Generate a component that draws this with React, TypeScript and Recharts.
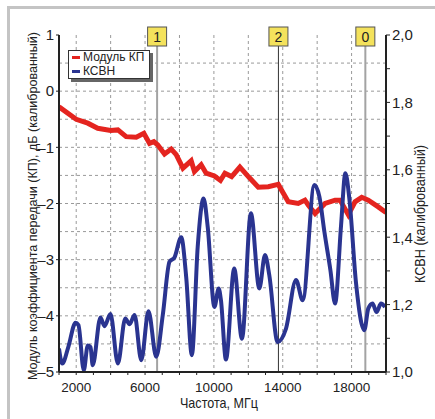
import {
  LineChart,
  Line,
  XAxis,
  YAxis,
  CartesianGrid,
  ReferenceLine,
} from "recharts";

// Модуль КП, дБ
const freqKP = [
  1000, 2000, 2670, 3250, 4000, 4420, 4900, 5490, 5930, 6260, 6510, 6740,
  7130, 7520, 7810, 8200, 8680, 8870, 9260, 9550, 10030, 10380, 10640, 11030,
  11510, 12000, 12580, 13160, 13740, 14320, 14900, 15290, 15490, 15880, 16460,
  17040, 17330, 17810, 18200, 18590, 18970, 19550, 20000,
];
const kp = [
  -0.28, -0.5, -0.57, -0.66, -0.7, -0.69, -0.81, -0.82, -0.75, -0.93, -0.9,
  -0.96, -1.12, -1.03, -1.13, -1.37, -1.24, -1.43, -1.31, -1.46, -1.51, -1.59,
  -1.46, -1.52, -1.35, -1.52, -1.71, -1.7, -1.66, -1.97, -2.0, -1.94, -2.03,
  -2.18, -2.0, -1.94, -1.94, -2.2, -1.97, -1.89, -1.94, -2.06, -2.16,
];

// КСВН
const freqSWR = [
  1000, 1190, 1540, 1960, 2130, 2440, 2670, 2830, 2960, 3410, 3640, 3990, 4420,
  4850, 5100, 5390, 5780, 6200, 6650, 7030, 7420, 7710, 8100, 8390, 8720, 9060,
  9400, 9640, 10030, 10280, 10410, 10700, 11180, 11630, 12150, 12640, 12970,
  13220, 13700, 14190, 14770, 15160, 15840, 16130, 16420, 16770, 17040, 17390,
  17640, 17870, 18260, 18740, 18970, 19220, 19450, 19710, 19940,
];
const swr = [
  1.07, 1.025, 1.074, 1.146, 1.139, 1.005, 1.079, 1.074, 1.02, 1.162, 1.136,
  1.172, 1.025, 1.159, 1.142, 1.169, 1.035, 1.18, 1.045, 1.169, 1.327, 1.34,
  1.4, 1.282, 1.05, 1.372, 1.515, 1.431, 1.193, 1.248, 1.213, 1.037, 1.307,
  1.099, 1.471, 1.248, 1.347, 1.287, 1.089, 1.129, 1.273, 1.213, 1.555, 1.52,
  1.416, 1.302, 1.203, 1.436, 1.59, 1.515, 1.263, 1.124, 1.188, 1.203, 1.178,
  1.203, 1.193,
];

const xTicks = [
  1000, 2000, 3000, 4000, 5000, 6000, 7000, 8000, 9000, 10000, 11000, 12000,
  13000, 14000, 15000, 16000, 17000, 18000, 19000, 20000,
];
const xLabels = [2000, 6000, 10000, 14000, 18000];
const xGrid = [2000, 4000, 6000, 8000, 10000, 12000, 14000, 16000, 18000];
const leftTicks = [-5, -4, -3, -2, -1, 0, 1];
const leftGrid = [-4.5, -4, -3.5, -3, -2.5, -2, -1.5, -1, -0.5, 0, 0.5];
const rightTicks = [1.0, 1.1, 1.2, 1.3, 1.4, 1.5, 1.6, 1.7, 1.8, 1.9, 2.0];
const rightLabels = ["1,0", "", "1,2", "", "1,4", "", "1,6", "", "1,8", "", "2,0"];

const markers = [
  { name: "1", f: 6700, color: "#a3a3a3", width: 2 },
  { name: "2", f: 13750, color: "#333", width: 1 },
  { name: "0", f: 18800, color: "#a3a3a3", width: 2 },
];

const legendItems = [
  { name: "Модуль КП", color: "#e4241f" },
  { name: "КСВН", color: "#2a3490" },
];

const kpData = freqKP.map((f, i) => ({ f, v: kp[i] }));
const swrData = freqSWR.map((f, i) => ({ f, v: swr[i] }));

const FONT = "'Liberation Sans', Arial, sans-serif";
const RED = "#e4241f";
const BLUE = "#2a3490";

const MarkerBox = ({ viewBox, text }: any) => {
  const x = viewBox.x;
  const y = viewBox.y;
  return (
    <g>
      <rect x={x - 9.5} y={y - 8} width={19} height={19} fill="#f4e25c" stroke="#555" strokeWidth={1} />
      <text x={x} y={y + 6.5} textAnchor="middle" fontSize={14} fontFamily={FONT} fill="#222">
        {text}
      </text>
    </g>
  );
};

export default function App() {
  return (
    <div style={{ position: "fixed", left: 0, top: 0, width: 435, height: 419, background: "#fff", overflow: "hidden" }}>
      <div
        style={{
          position: "absolute",
          left: 7,
          top: 6,
          width: 440,
          height: 430,
          border: "3px solid #c4c4c4",
          boxSizing: "border-box",
        }}
      />
      <div style={{ position: "absolute", left: 0, top: 0 }}>
        <LineChart width={435} height={419} margin={{ top: 35, right: 0, bottom: 0, left: 0 }}>
          <CartesianGrid
            yAxisId="left"
            stroke="#9a9a9a"
            strokeDasharray="3 3"
            verticalValues={xGrid}
            horizontalValues={leftGrid}
          />
          <XAxis
            dataKey="f"
            type="number"
            domain={[1000, 20000]}
            ticks={xTicks}
            interval={0}
            allowDataOverflow
            height={47}
            tickSize={3}
            stroke="#222"
            tickFormatter={(v: number) => (xLabels.includes(v) ? String(v) : "")}
            tick={{ fontSize: 13.5, fontFamily: FONT, fill: "#222", dy: 5 }}
            axisLine={{ stroke: "#222", strokeWidth: 2 }}
          />
          <YAxis
            yAxisId="left"
            type="number"
            domain={[-5, 1]}
            ticks={leftTicks}
            width={59}
            tickSize={3}
            interval={0}
            stroke="#222"
            tickFormatter={(v: number) => (v < 0 ? "–" + Math.abs(v) : String(v))}
            tick={{ fontSize: 15, fontFamily: FONT, fill: "#222" }}
            axisLine={{ stroke: "#222", strokeWidth: 2 }}
          />
          <YAxis
            yAxisId="right"
            orientation="right"
            type="number"
            domain={[1, 2]}
            ticks={rightTicks}
            width={49}
            tickSize={4}
            interval={0}
            stroke="#222"
            tickFormatter={(v: number, i: number) => rightLabels[i]}
            tick={{ fontSize: 15, fontFamily: FONT, fill: "#222" }}
            axisLine={{ stroke: "#222", strokeWidth: 2 }}
          />
          {markers.map((m) => (
            <ReferenceLine
              key={m.name}
              yAxisId="left"
              x={m.f}
              stroke={m.color}
              strokeWidth={m.width}
              label={{ content: (p: any) => <MarkerBox viewBox={p.viewBox} text={m.name} /> }}
            />
          ))}
          <Line
            yAxisId="left"
            data={kpData}
            dataKey="v"
            type="linear"
            stroke={RED}
            strokeWidth={5}
            dot={false}
            isAnimationActive={false}
          />
          <Line
            yAxisId="right"
            data={swrData}
            dataKey="v"
            type="monotone"
            stroke={BLUE}
            strokeWidth={4}
            dot={false}
            isAnimationActive={false}
          />
        </LineChart>
      </div>
      <div
        style={{
          position: "absolute",
          left: 68,
          top: 50,
          border: "1px solid #333",
          boxShadow: "3px 3px 0 #666",
          background: "#fff",
          fontFamily: FONT,
          fontSize: 12,
          color: "#222",
          padding: "0px 5px 0px 3px",
          lineHeight: "13.5px",
        }}
      >
        {legendItems.map((it) => (
          <div key={it.name} style={{ display: "flex", alignItems: "center", gap: 3 }}>
            <span style={{ width: 8, height: 3, background: it.color, display: "inline-block" }} />
            <span>{it.name}</span>
          </div>
        ))}
      </div>
      <svg width={435} height={419} style={{ position: "absolute", left: 0, top: 0, pointerEvents: "none" }}>
        <text
          transform="translate(37, 206) rotate(-90)"
          textAnchor="middle"
          fontSize={13}
          fontFamily={FONT}
          fill="#222"
          textLength={348}
          lengthAdjust="spacingAndGlyphs"
        >
          Модуль коэффициента передачи (КП), дБ (калиброванный)
        </text>
        <text
          transform="translate(425, 214) rotate(-90)"
          textAnchor="middle"
          fontSize={15}
          fontFamily={FONT}
          fill="#222"
          textLength={138}
          lengthAdjust="spacingAndGlyphs"
        >
          КСВН (калиброванный)
        </text>
        <text
          x={219}
          y={408}
          textAnchor="middle"
          fontSize={15}
          fontFamily={FONT}
          fill="#222"
          textLength={78}
          lengthAdjust="spacingAndGlyphs"
        >
          Частота, МГц
        </text>
      </svg>
    </div>
  );
}
